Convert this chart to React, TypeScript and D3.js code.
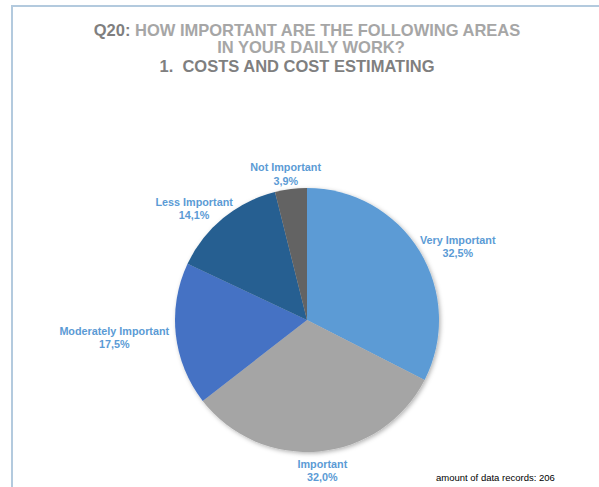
import React from "react";
import * as d3 from "d3";

const categories = ["Very Important", "Important", "Moderately Important", "Less Important", "Not Important"];
const values = [32.5, 32.0, 17.5, 14.1, 3.9];
const valueLabels = ["32,5%", "32,0%", "17,5%", "14,1%", "3,9%"];
const colors = ["#5b9bd5", "#a5a5a5", "#4472c4", "#255e91", "#636363"];
const titleLines = ["HOW IMPORTANT ARE THE FOLLOWING AREAS", "IN YOUR DAILY WORK?", "1.  COSTS AND COST ESTIMATING"];
const footnote = "amount of data records: 206";

const W = 599;
const H = 487;
const cx = 307;
const cy = 320;
const R = 132;
const labelFont = 10.8;
const lineH = 13.5;

function textWidth(s: string, size: number, weight: string) {
  if (typeof document === "undefined") return s.length * size * 0.55;
  const c = document.createElement("canvas");
  const ctx = c.getContext("2d")!;
  ctx.font = `${weight} ${size}px "Liberation Sans", Arial, sans-serif`;
  return ctx.measureText(s).width;
}

export default function App() {
  const data = categories.map((c, i) => ({ name: c, value: values[i], label: valueLabels[i], color: colors[i] }));
  const pie = d3.pie<any>().sort(null).value((d: any) => d.value);
  const arcs = pie(data);
  const arc = d3.arc<any>().innerRadius(0).outerRadius(R);
  const font = '"Liberation Sans", Arial, sans-serif';

  return (
    <svg width={W} height={H} style={{ position: "absolute", left: 0, top: 0 }} fontFamily={font}>
      <defs>
        <filter id="sh" x="-20%" y="-20%" width="140%" height="140%">
          <feDropShadow dx="1.5" dy="1.5" stdDeviation="2" floodColor="#000" floodOpacity="0.3" />
        </filter>
      </defs>
      <rect x={0} y={0} width={W} height={H} fill="#fff" />
      <line x1={12} y1={6} x2={W} y2={6} stroke="#b3cade" strokeWidth={2} />
      <line x1={12} y1={5} x2={12} y2={H} stroke="#b3cade" strokeWidth={2} />

      <text x={307} y={36} textAnchor="middle" fontSize={16.5} fontWeight="bold" fill="#a6a6a6">
        <tspan fill="#7f7f7f">Q20:</tspan> {titleLines[0]}
      </text>
      <text x={311} y={53} textAnchor="middle" fontSize={16.5} fontWeight="bold" fill="#a6a6a6">
        {titleLines[1]}
      </text>
      <text x={297} y={72} textAnchor="middle" fontSize={16.5} fontWeight="bold" fill="#7f7f7f" style={{ whiteSpace: "pre" }}>
        {titleLines[2]}
      </text>

      <g transform={`translate(${cx},${cy})`} filter="url(#sh)">
        {arcs.map((a, i) => (
          <path key={i} d={arc(a) as string} fill={a.data.color} />
        ))}
      </g>

      {arcs.map((a, i) => {
        const mid = (a.startAngle + a.endAngle) / 2;
        const s = Math.sin(mid);
        const c = Math.cos(mid);
        const rr = R + 7;
        const ax = cx + rr * s;
        const ay = cy - rr * c;
        const w = Math.max(textWidth(a.data.name, labelFont, "bold"), textWidth(a.data.label, labelFont, "bold"));
        const h = lineH * 2;
        const lx = ax + (s * w) / 2;
        const ly = ay - (c * Math.abs(c) * h * 0.75) / 2 + 2;
        return (
          <text key={i} textAnchor="middle" fontSize={labelFont} fontWeight="bold" fill="#5b9bd5">
            <tspan x={lx} y={ly - 2.8}>{a.data.name}</tspan>
            <tspan x={lx} y={ly + 10.7}>{a.data.label}</tspan>
          </text>
        );
      })}

      <text x={436} y={481} fontSize={9.5} fill="#000">{footnote}</text>
    </svg>
  );
}
